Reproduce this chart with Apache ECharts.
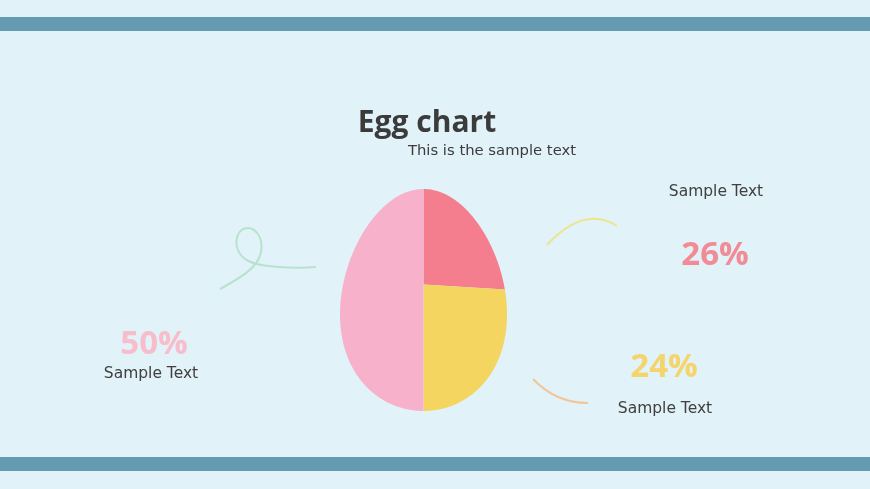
<!DOCTYPE html>
<html>
<head>
<meta charset="utf-8">
<script src="https://cdn.jsdelivr.net/npm/echarts@6/dist/echarts.min.js"></script>
<style>
  html, body { margin: 0; padding: 0; background: #e1f2f9; }
  #main { width: 870px; height: 489px; }
</style>
</head>
<body>
<div id="main"></div>
<script>
// slices, clockwise from the top of the egg
var sliceNames = ['Top right', 'Bottom right', 'Left']
var sliceValues = [26, 24, 50]
var sliceColors = ['#f47d8e', '#f3d55f', '#f7b1cb']
var labelText = ['Sample Text', 'Sample Text', 'Sample Text']

// egg geometry in axis units (x: -1..1, y: 0 bottom .. 1 top)
var eggSkew = 0.135
var pieCenterY = 0.57

var total = sliceValues.reduce(function (s, v) { return s + v }, 0)
var startAngles = []
var acc = 0
for (var i = 0; i < sliceValues.length; i++) {
  startAngles.push(acc / total * Math.PI * 2)
  acc += sliceValues[i]
}

function renderSlice (params, api) {
  var idx = params.dataIndex
  var p = api.coord([0, pieCenterY])
  var c = api.coord([0, 0.5])
  var b = api.size([0, 0.5])[1]
  var a = api.size([1, 0])[0] / 1.0089
  // egg outline: half width = a * sqrt(1 - t^2) * (1 - k t), t = 1 at the top
  function inside (x, y) {
    var t = (c[1] - y) / b
    if (t > 1 || t < -1) return false
    var w = a * Math.sqrt(1 - t * t) * (1 - eggSkew * t)
    return Math.abs(x - c[0]) <= w
  }
  function edge (th) {
    var sx = Math.sin(th)
    var sy = -Math.cos(th)
    var lo = 0
    var hi = 400
    for (var k = 0; k < 40; k++) {
      var mid = (lo + hi) / 2
      if (inside(p[0] + sx * mid, p[1] + sy * mid)) lo = mid
      else hi = mid
    }
    return [p[0] + sx * lo, p[1] + sy * lo]
  }
  var a0 = startAngles[idx]
  var a1 = a0 + api.value(2) / total * Math.PI * 2
  var n = Math.max(8, Math.round((a1 - a0) * 50))
  var pts = [p]
  for (var k = 0; k <= n; k++) {
    pts.push(edge(a0 + (a1 - a0) * k / n))
  }
  return {
    type: 'polygon',
    shape: { points: pts },
    style: { fill: sliceColors[idx] }
  }
}

function curve (x1, y1, cx1, cy1, cx2, cy2, x2, y2, color) {
  var shape = { x1: x1, y1: y1, cpx1: cx1, cpy1: cy1, x2: x2, y2: y2 }
  if (cx2 !== null) {
    shape.cpx2 = cx2
    shape.cpy2 = cy2
  }
  return { type: 'bezierCurve', shape: shape, style: { fill: null, stroke: color, lineWidth: 2 } }
}

var green = '#b8e2cd'

var chart = echarts.init(document.getElementById('main'))
chart.setOption({
  backgroundColor: '#e1f2f9',
  title: [
    {
      text: 'Egg chart',
      left: 422,
      top: 103,
      textAlign: 'center',
      textStyle: { fontFamily: 'Open Sans', fontWeight: 'bold', fontSize: 30, color: '#3b3b3b' }
    },
    {
      text: 'This is the sample text',
      left: 487,
      top: 139,
      textAlign: 'center',
      textStyle: { fontFamily: 'DejaVu Sans', fontWeight: 'normal', fontSize: 14.8, color: '#3c3c3c' }
    }
  ],
  grid: { left: 340, width: 167, top: 189, height: 222 },
  xAxis: { type: 'value', min: -1, max: 1, show: false },
  yAxis: { type: 'value', min: 0, max: 1, show: false },
  series: [{
    type: 'custom',
    coordinateSystem: 'cartesian2d',
    renderItem: renderSlice,
    silent: true,
    data: sliceValues.map(function (v, i) {
      return { name: sliceNames[i], value: [0, pieCenterY, v] }
    })
  }],
  graphic: [
    { type: 'rect', shape: { x: 0, y: 17, width: 870, height: 14 }, style: { fill: '#649bb0' } },
    { type: 'rect', shape: { x: 0, y: 457, width: 870, height: 14 }, style: { fill: '#649bb0' } },
    // decorative strokes
    curve(220, 289, 240, 278, 258, 268, 261, 252, green),
    curve(261, 252, 264, 236, 254, 228, 248, 228, green),
    curve(248, 228, 238, 228, 234, 240, 238, 250, green),
    curve(238, 250, 242, 260, 252, 264, 268, 266, green),
    curve(268, 266, 285, 268, 302, 268, 316, 267, green),
    curve(547, 245, 584, 205, null, null, 617, 226, '#ece58c'),
    curve(533, 379, 556, 403, null, null, 588, 403, '#f1c597'),
    // percentage labels
    {
      type: 'text', x: 715, y: 256,
      style: { text: sliceValues[0] + '%', fill: '#f18b95', font: 'bold 33px "Open Sans"', align: 'center', verticalAlign: 'middle' }
    },
    {
      type: 'text', x: 664, y: 368,
      style: { text: sliceValues[1] + '%', fill: '#f4d46c', font: 'bold 33px "Open Sans"', align: 'center', verticalAlign: 'middle' }
    },
    {
      type: 'text', x: 154, y: 345,
      style: { text: sliceValues[2] + '%', fill: '#f8bdca', font: 'bold 33px "Open Sans"', align: 'center', verticalAlign: 'middle' }
    },
    {
      type: 'text', x: 716, y: 192,
      style: { text: labelText[0], fill: '#404040', font: '15.5px "DejaVu Sans"', align: 'center', verticalAlign: 'middle' }
    },
    {
      type: 'text', x: 665, y: 409,
      style: { text: labelText[1], fill: '#404040', font: '15.5px "DejaVu Sans"', align: 'center', verticalAlign: 'middle' }
    },
    {
      type: 'text', x: 151, y: 374,
      style: { text: labelText[2], fill: '#404040', font: '15.5px "DejaVu Sans"', align: 'center', verticalAlign: 'middle' }
    }
  ]
})
</script>
</body>
</html>
